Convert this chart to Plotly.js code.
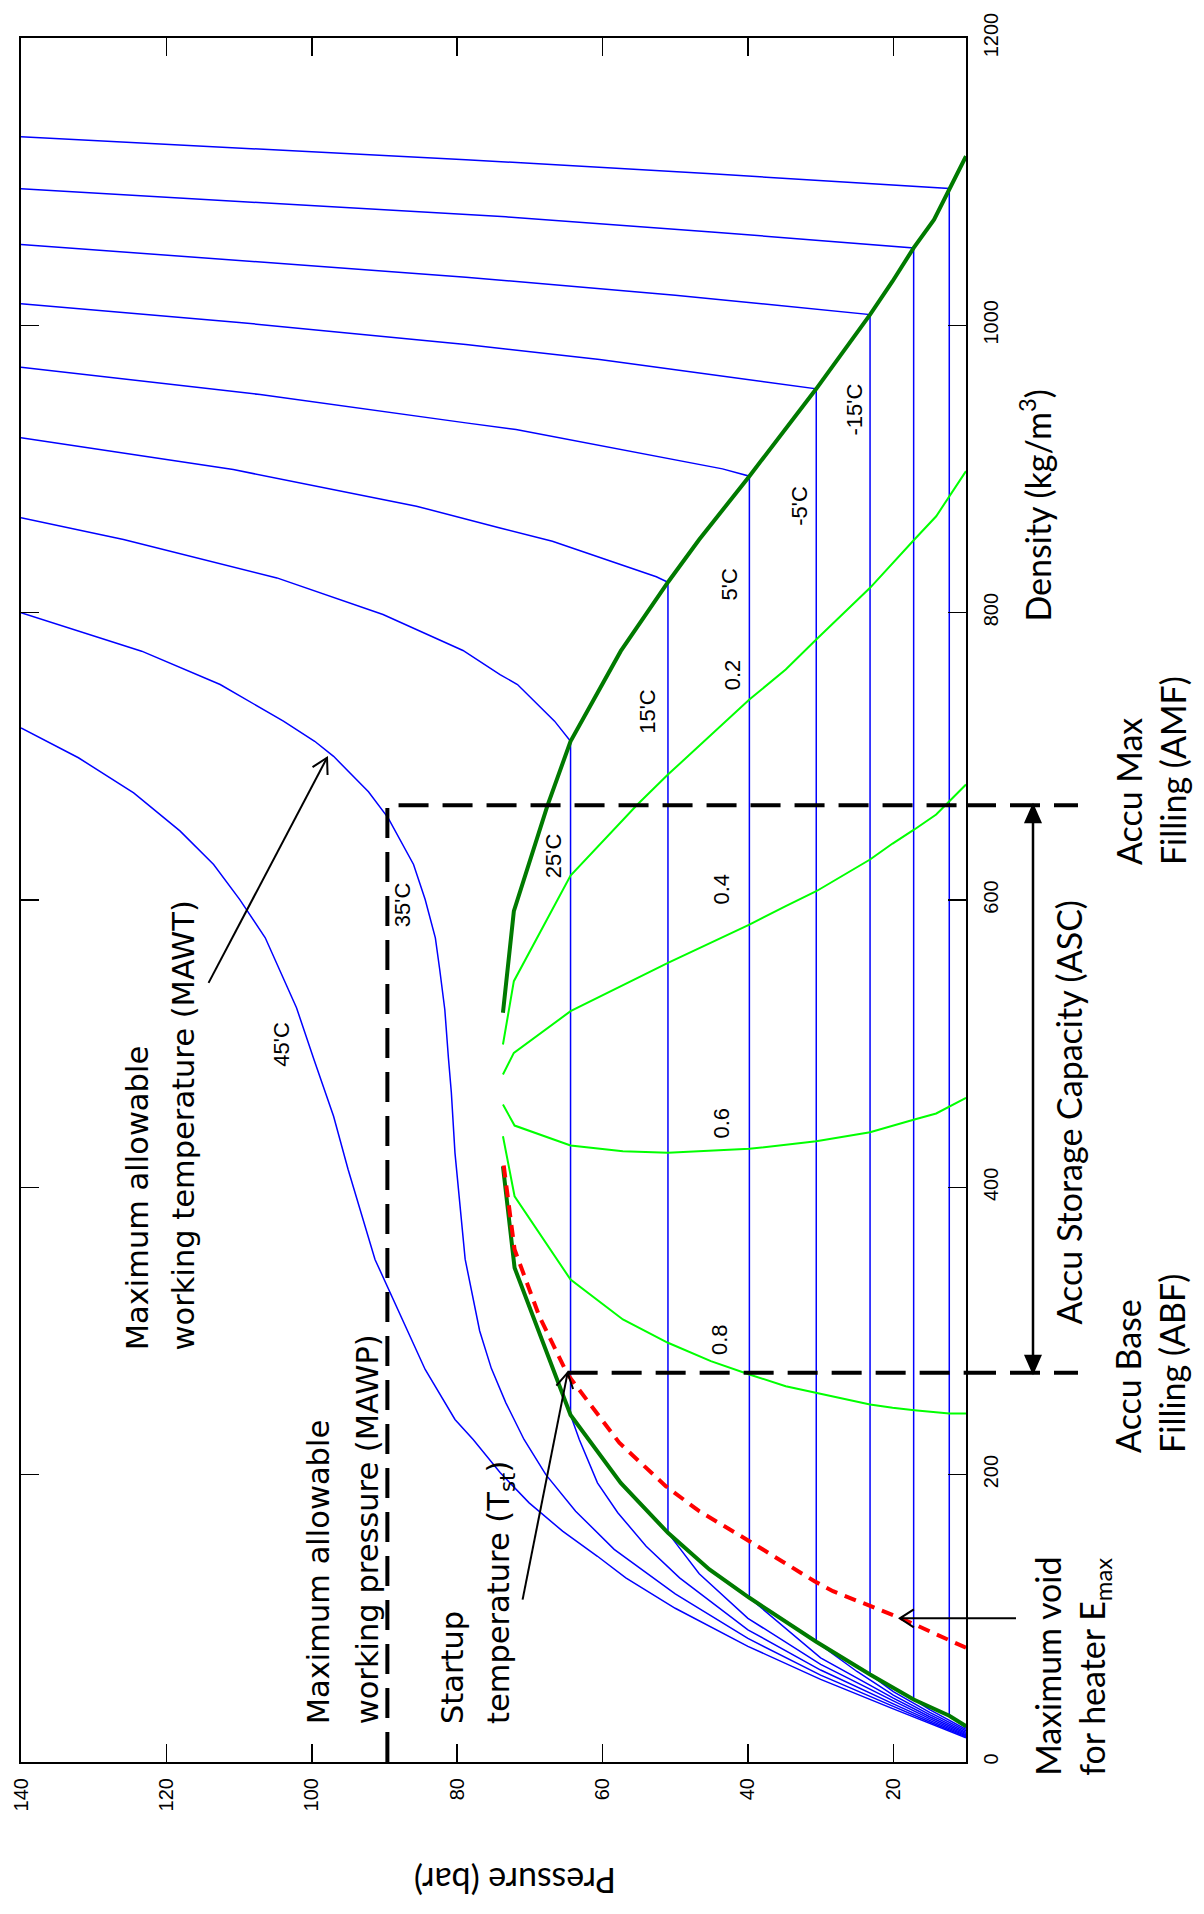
<!DOCTYPE html>
<html><head><meta charset="utf-8">
<script src="https://cdn.plot.ly/plotly-3.0.1.min.js"></script>
<style>html,body{margin:0;padding:0;background:#fff;}#chart{width:1204px;height:1914px;}</style>
</head><body><div id="chart"></div>
<script>
// ---------- DATA (pressure in bar, density in kg/m3) ----------
const isoM35_P   = [10, 12.3, 12.3, 45, 78.8, 140];
const isoM35_rho = [24.0, 32.2, 1095.2, 1105.5, 1115.3, 1131.2];
const isoM25_P   = [10, 15, 17.2, 17.2, 45, 73.3, 140];
const isoM25_rho = [22.8, 36.5, 43.5, 1053.9, 1065, 1075.5, 1095];
const isoM15_P   = [10, 15, 20, 23.2, 23.2, 50, 78.8, 140];
const isoM15_rho = [21.7, 34.5, 49, 60.9, 1007.5, 1021, 1033.5, 1056.3];
const isoM5_P    = [10, 15, 20, 25, 30.6, 30.6, 60.4, 78.8, 110, 140];
const isoM5_rho  = [20.7, 33, 46.5, 63, 83.7, 955.8, 976.2, 986.6, 1002, 1015];
const iso5_P     = [10, 15, 20, 30, 39.8, 39.8, 43.5, 71.9, 78.8, 107.1, 140];
const iso5_rho   = [19.8, 31.5, 44.5, 72.5, 114.3, 895, 900.1, 927.5, 932.1, 951.8, 970.9];
const iso15_P    = [10, 15, 20, 30, 40, 46.7, 51.0, 51.0, 52.6, 66.9, 74.1, 85.6, 110.8, 140];
const iso15_rho  = [19.0, 30.2, 42.5, 68, 100, 131, 159.5, 821.2, 825, 849.7, 859, 874.1, 899.6, 921.7];
const iso25_P    = [10, 15, 20, 30, 40, 49.4, 54.0, 57.9, 60.7, 63.2, 64.4, 64.4, 66.6, 71.7, 74.1, 79.2, 90.2, 104.8, 125.9, 140];
const iso25_rho  = [18.2, 29, 40.5, 64, 92, 128.2, 150.2, 173.5, 194.3, 224.5, 241.5, 710.5, 724.5, 750, 756.9, 773.7, 798.7, 824.2, 850.9, 866];
const iso35_P    = [10, 15, 20, 30, 40, 50, 58.4, 63.7, 67.8, 70.8, 73.3, 75.3, 76.9, 78.9, 80.3, 80.8, 81.2, 81.7, 82.4, 83.0, 84.4, 86.0, 89.5, 92.2, 97.0, 99.6, 103.9, 112.6, 123.4, 140];
const iso35_rho  = [17.5, 27.8, 38.7, 60.5, 86, 117, 148, 174.6, 200, 224.5, 250, 274, 300, 350, 424, 466, 490, 523.8, 551.6, 573.7, 600.3, 624.7, 657.2, 675.3, 700, 710.5, 724.5, 750, 773.2, 800];
const iso45_P    = [10, 15, 20, 30, 40, 50, 56.8, 60.7, 65.5, 70.1, 74.1, 77.8, 80.3, 84.4, 89.5, 91.3, 95, 97, 99.7, 102.1, 106.4, 109.9, 113.5, 118.1, 124.5, 132.1, 140];
const iso45_rho  = [16.8, 26.8, 37, 57.5, 80.5, 107, 128.2, 143.2, 160.7, 180.4, 201.5, 224.5, 238.4, 273.2, 328.9, 349.8, 412.4, 449.5, 489, 525, 573.7, 600.3, 624.7, 647.9, 674.6, 699, 719.8];

const satVap_P   = [10, 12.3, 17.2, 23.2, 30.6, 39.8, 45.3, 51.0, 57.5, 64.4, 72.1, 73.7];
const satVap_rho = [24.9, 32.2, 43.5, 60.9, 83.7, 114.3, 134, 159.5, 194.3, 241.5, 344, 414.7];
const satLiq_P   = [10, 12.3, 14.4, 17.2, 20.1, 23.2, 30.6, 39.8, 46.7, 51.0, 57.5, 64.4, 67.6, 72.2, 73.7];
const satLiq_rho = [1117.7, 1095.2, 1073.6, 1053.9, 1030.7, 1007.5, 955.8, 895, 850.9, 821.2, 773.2, 710.5, 665.3, 592.2, 521.5];

const void02_P   = [10, 14.1, 17.1, 23.2, 30.6, 34.8, 39.8, 51.0, 55.2, 64.4, 72.2, 73.7];
const void02_rho = [898.5, 867.1, 850.9, 817.3, 781.3, 760.4, 739.5, 687.3, 666.5, 617.0, 543.5, 499.4];
const void04_P   = [10, 12.7, 14.1, 17.1, 20.1, 23.2, 30.6, 34.8, 39.8, 51.0, 64.4, 72.2, 73.7];
const void04_rho = [680.4, 666.5, 659.5, 649.1, 639.3, 628.2, 606.1, 595.7, 582.9, 556.3, 522.6, 493.6, 478.5];
const void06_P   = [10, 14.1, 17.1, 23.2, 30.6, 39.8, 51.0, 57.2, 64.4, 72.1, 73.7];
const void06_rho = [462.3, 451.4, 447.2, 438.4, 432.1, 426.8, 424, 425.2, 429.1, 443, 457.6];
const void08_P   = [10, 12.3, 17.1, 20.1, 23.2, 30.6, 34.8, 39.8, 45.1, 51.0, 57.2, 64.4, 72.1, 73.7];
const void08_rho = [242.6, 242.6, 244.9, 246.5, 248.8, 257, 261.6, 269.7, 279, 291.8, 308, 335.8, 393.8, 435.6];

const emax_P     = [10, 19.1, 28.3, 30.9, 39.8, 46.7, 51.3, 57.7, 64.8, 68.7, 72.1, 73.7];
const emax_rho   = [79.5, 100.4, 118.9, 126, 153.7, 174.6, 192, 222.2, 269.7, 310.3, 356.7, 419.4];

const MAWP = 89.6;          // bar
const AMF = 666;            // kg/m3
const ABF = 271;            // kg/m3
const P_start = 64.8;       // bar, startup point
const pressureTicks = [20, 40, 60, 80, 100, 120, 140];
const densityTicks = [0, 200, 400, 600, 800, 1000, 1200];
const tempLabels = ["45'C", "35'C", "25'C", "15'C", "5'C", "-5'C", "-15'C"];
const voidLabels = ["0.2", "0.4", "0.6", "0.8"];

// ---------- GEOMETRY ----------
const M = {l: 21, r: 238, t: 38, b: 152};
const W = 1204, H = 1914;
const xRange = [140, 10], yRange = [0, 1200];
const plotW = W - M.l - M.r, plotH = H - M.t - M.b;
const pxPerBar = plotW / (xRange[0] - xRange[1]);
const pxPerRho = plotH / (yRange[1] - yRange[0]);
const pToPaper = P => (xRange[0] - P) / (xRange[0] - xRange[1]);

// ---------- TRACES ----------
const BLUE = '#0000ff', LGREEN = '#00ff00', DGREEN = '#007a00';
function line(x, y, color, width, dash) {
  return {x: x, y: y, type: 'scatter', mode: 'lines', hoverinfo: 'skip', showlegend: false,
          line: {color: color, width: width, dash: dash || 'solid'}};
}
// arrow tails/heads (pressure, density)
const mawtArrow = {P: [114.2, 97.9], rho: [542.3, 699]};
const tstArrow  = {P: [71, P_start], rho: [113, ABF]};
const emaxArrowHead = {P: 19.1, rho: 100};

const traces = [
  line(isoM35_P, isoM35_rho, BLUE, 1.5), line(isoM25_P, isoM25_rho, BLUE, 1.5),
  line(isoM15_P, isoM15_rho, BLUE, 1.5), line(isoM5_P, isoM5_rho, BLUE, 1.5),
  line(iso5_P, iso5_rho, BLUE, 1.5), line(iso15_P, iso15_rho, BLUE, 1.5),
  line(iso25_P, iso25_rho, BLUE, 1.5), line(iso35_P, iso35_rho, BLUE, 1.5),
  line(iso45_P, iso45_rho, BLUE, 1.5),
  line(void02_P, void02_rho, LGREEN, 2), line(void04_P, void04_rho, LGREEN, 2),
  line(void06_P, void06_rho, LGREEN, 2), line(void08_P, void08_rho, LGREEN, 2),
  line(satVap_P, satVap_rho, DGREEN, 4), line(satLiq_P, satLiq_rho, DGREEN, 4),
  line(emax_P, emax_rho, '#ff0000', 4, '12px,8px'),
  line([MAWP, MAWP, 10], [0, AMF, AMF], '#000', 4, '30px,14px'),
  line([P_start, 10], [ABF, ABF], '#000', 4, '30px,14px'),
  line(mawtArrow.P, mawtArrow.rho, '#000', 2),
  line(tstArrow.P, tstArrow.rho, '#000', 2)
];

// ---------- ANNOTATIONS ----------
const tickFont = {family: 'Liberation Sans, Arial, sans-serif', size: 20, color: '#000'};
const lblFont = {family: 'Liberation Sans, Arial, sans-serif', size: 22, color: '#000'};
const bigFont = {family: 'DejaVu Sans, sans-serif', size: 30.5, color: '#000'};
const calFont = {family: 'Lato, sans-serif', size: 34, color: '#000'};

const tempPos = [[104.1, 500], [87.6, 597], [66.8, 630.5], [53.8, 731.4], [42.6, 819.6], [32.9, 874.1], [25.4, 941.4]];
const voidPos = [[42.1, 756.9], [43.6, 607.8], [43.6, 444.9], [43.9, 294.1]];
const ann = [];
tempLabels.forEach((t, i) => ann.push({xref: 'x', yref: 'y', x: tempPos[i][0], y: tempPos[i][1], text: t,
  textangle: -90, showarrow: false, font: lblFont}));
voidLabels.forEach((t, i) => ann.push({xref: 'x', yref: 'y', x: voidPos[i][0], y: voidPos[i][1], text: t,
  textangle: -90, showarrow: false, font: lblFont}));

function rotLine(x, y, text) {
  return {xref: 'x', yref: 'y', x: x, y: y, text: text, textangle: -90, showarrow: false,
          xanchor: 'center', yanchor: 'bottom', font: bigFont};
}
ann.push(rotLine(124.0, 285, 'Maximum allowable'));
ann.push(rotLine(117.6, 285, 'working temperature (MAWT)'));
ann.push(rotLine(99.1, 24.7, 'Maximum allowable'));
ann.push(rotLine(92.3, 24.7, 'working pressure (MAWP)'));
ann.push(rotLine(80.7, 24.7, 'Startup'));
ann.push(rotLine(74.1, 24.7, 'temperature (T<sub>st</sub>)'));

function paperText(x, y, text, angle, yanchor, align) {
  return {xref: 'paper', yref: 'paper', x: x, y: y, text: text, textangle: angle, showarrow: false,
          xanchor: 'center', yanchor: yanchor || 'middle', align: align || 'center', font: calFont};
}
ann.push(paperText(1.073, 0.7288, 'Density (kg/m<sup>3</sup>)', -90));
ann.push(paperText(0.5228, -0.0693, 'Pressure (bar)', 180));
ann.push(paperText(1.108, 0.3768, 'Accu Storage Capacity (ASC)', -90));
ann.push(paperText(1.1947, 0.5194, 'Accu Max<br>Filling (AMF)', -90, 'bottom', 'left'));
ann.push(paperText(1.1947, 0.1784, 'Accu Base<br>Filling (ABF)', -90, 'bottom', 'left'));
ann.push(paperText(1.112, -0.009, 'Maximum void<br>for heater E<sub>max</sub>', -90, 'bottom', 'left'));

// ---------- SHAPES (dashed extensions, arrow shafts and heads) ----------
function head(xref, xVal, yVal, dxPx, dyUpPx, L, Wd, filled) {
  const len = Math.hypot(dxPx, dyUpPx), ux = dxPx / len, uy = dyUpPx / len;
  const nx = -uy, ny = ux, bx = -L * ux, by = -L * uy;
  const f = v => v.toFixed(2);
  const path = 'M' + f(bx + Wd * nx) + ',' + f(by + Wd * ny) + 'L0,0L' + f(bx - Wd * nx) + ',' + f(by - Wd * ny) + (filled ? 'Z' : '');
  return {type: 'path', xref: xref, yref: 'y', xsizemode: 'pixel', ysizemode: 'pixel',
          xanchor: xVal, yanchor: yVal, path: path,
          line: {color: '#000', width: 2}, fillcolor: filled ? '#000' : 'rgba(0,0,0,0)'};
}
const ascX = 1.0709;            // paper x of the capacity arrow
const extEnd = 1.1185;          // paper x where AMF/ABF dashes end
const emaxTail = 1.0529;        // paper x of the heater arrow tail
const shapes = [
  {type: 'line', xref: 'paper', yref: 'y', x0: 1, x1: extEnd, y0: AMF, y1: AMF, line: {color: '#000', width: 4, dash: '30px,14px'}},
  {type: 'line', xref: 'paper', yref: 'y', x0: 1, x1: extEnd, y0: ABF, y1: ABF, line: {color: '#000', width: 4, dash: '30px,14px'}},
  {type: 'line', xref: 'paper', yref: 'y', x0: ascX, x1: ascX, y0: ABF + 6, y1: AMF - 6, line: {color: '#000', width: 2.5}},
  head('paper', ascX, AMF, 0, 1, 17, 7.5, true),
  head('paper', ascX, ABF, 0, -1, 17, 7.5, true),
  {type: 'line', xref: 'paper', yref: 'y', x0: pToPaper(emaxArrowHead.P), x1: emaxTail, y0: emaxArrowHead.rho, y1: emaxArrowHead.rho, line: {color: '#000', width: 2}},
  head('paper', pToPaper(emaxArrowHead.P), emaxArrowHead.rho, -1, 0, 14, 9, false),
  head('x', mawtArrow.P[1], mawtArrow.rho[1], (mawtArrow.P[0] - mawtArrow.P[1]) * pxPerBar, (mawtArrow.rho[1] - mawtArrow.rho[0]) * pxPerRho, 15, 8.5, false),
  head('x', tstArrow.P[1], tstArrow.rho[1], (tstArrow.P[0] - tstArrow.P[1]) * pxPerBar, (tstArrow.rho[1] - tstArrow.rho[0]) * pxPerRho, 15, 8.5, false)
];

const layout = {
  width: W, height: H,
  margin: {l: M.l, r: M.r, t: M.t, b: M.b, pad: 0},
  paper_bgcolor: '#fff', plot_bgcolor: '#fff',
  showlegend: false,
  xaxis: {range: xRange, tickvals: pressureTicks, ticktext: pressureTicks.map(String),
    ticks: 'inside', ticklen: 18, tickwidth: 1.5, tickcolor: '#000', tickangle: -90,
    showline: true, linecolor: '#000', linewidth: 2, mirror: 'ticks', showgrid: false, zeroline: false,
    tickfont: tickFont, ticklabelstandoff: 6, automargin: false},
  yaxis: {range: yRange, side: 'right', tickvals: densityTicks, ticktext: densityTicks.map(String),
    ticks: 'inside', ticklen: 18, tickwidth: 1.5, tickcolor: '#000', tickangle: -90,
    showline: true, linecolor: '#000', linewidth: 2, mirror: 'ticks', showgrid: false, zeroline: false,
    tickfont: tickFont, ticklabelstandoff: 6, automargin: false},
  annotations: ann,
  shapes: shapes
};
Plotly.newPlot('chart', traces, layout, {displayModeBar: false, staticPlot: true});
</script></body></html>
